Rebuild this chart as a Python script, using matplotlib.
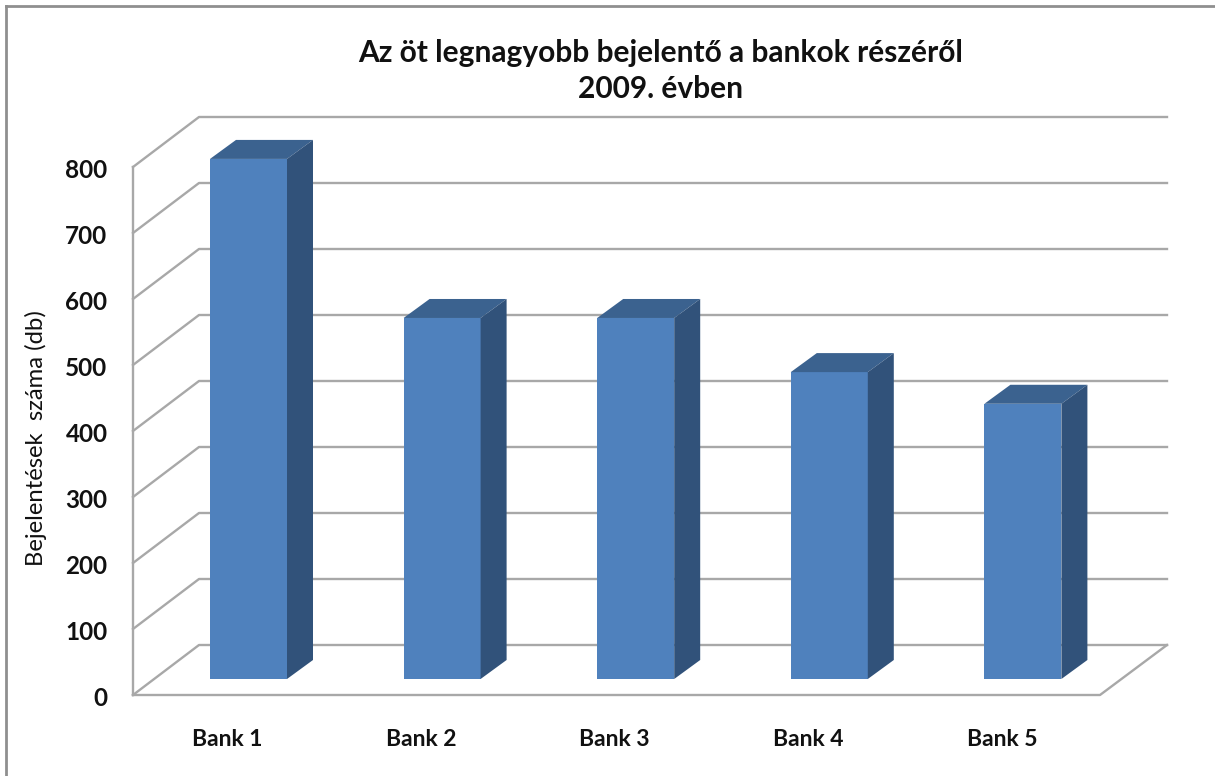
import matplotlib.pyplot as plt
from matplotlib.patches import Polygon

banks = ['Bank 1', 'Bank 2', 'Bank 3', 'Bank 4', 'Bank 5']
values = [788, 547, 547, 465, 417]
y_ticks = [0, 100, 200, 300, 400, 500, 600, 700, 800]
title = 'Az öt legnagyobb bejelentő a bankok részéről\n2009. évben'
y_title = 'Bejelentések  száma (db)'

plt.rcParams['font.family'] = ['Lato', 'DejaVu Sans']

FRONT = '#4f81bd'
TOP = '#3b628f'
SIDE = '#31527a'
GRID = '#a8a8a8'
BORDER = '#8f8f8f'

W, H = 1215, 776
UX = 193.6   # px per category
UY = 0.66    # px per db

fig = plt.figure(figsize=(W / 100, H / 100), dpi=100, facecolor='white')
ax = fig.add_axes([0, 0, 1, 1])
ax.set_xlim(-248.5 / UX, (W - 248.5) / UX)
ax.set_ylim((679 - H) / UY, 679 / UY)
ax.axis('off')

# frame of the chart area
ax.plot([0.005, 0.005], [0, 0.992], color=BORDER, lw=2, transform=ax.transAxes, clip_on=False)
ax.plot([0.005, 1], [0.992, 0.992], color=BORDER, lw=2, transform=ax.transAxes, clip_on=False)

# walls and floor
wall_x = -115.5 / UX
wall_dx = 66 / UX
wall_dy = 50 / UY
base = -16 / UY
floor_right = 851.5 / UX
back_right = 918.5 / UX

for v in y_ticks:
    y = base + v
    ax.plot([wall_x, wall_x + wall_dx, back_right],
            [y, y + wall_dy, y + wall_dy], color=GRID, lw=1.7, zorder=1)
ax.plot([wall_x, wall_x], [base, base + 800], color=GRID, lw=1.7, zorder=1)
ax.plot([wall_x, floor_right, back_right],
        [base, base, base + wall_dy], color=GRID, lw=1.7, zorder=1)

# bars: front from ax.bar, depth faces as polygons
xs = list(range(len(banks)))
bar_w = 77 / UX
dx = 26 / UX
dy = 19 / UY
ax.bar(xs, values, width=bar_w, color=FRONT, zorder=3)
for x, v in zip(xs, values):
    l, r = x - bar_w / 2, x + bar_w / 2
    ax.add_patch(Polygon([(l, v), (r, v), (r + dx, v + dy), (l + dx, v + dy)],
                         color=TOP, lw=0, zorder=3))
    ax.add_patch(Polygon([(r, 0), (r + dx, dy), (r + dx, v + dy), (r, v)],
                         color=SIDE, lw=0, zorder=3))

# labels
for v in y_ticks:
    ax.text(-141 / UX, base + v - 3.5 / UY, str(v), ha='right', va='center',
            fontsize=17.5, fontweight='bold', color='#111111')
for x, b in zip(xs, banks):
    ax.text(x - 21 / UX, (679 - 740) / UY, b, ha='center', va='center',
            fontsize=16.5, fontweight='bold', color='#111111')
ax.text(-212.5 / UX, (679 - 438) / UY, y_title, rotation=90, ha='center', va='center',
        fontsize=17.2, color='#111111')
ax.text(412.5 / UX, (679 - 71) / UY, title, ha='center', va='center', linespacing=1.38,
        fontsize=21.5, fontweight='bold', color='#111111')

fig.savefig('out.png', dpi=100)
